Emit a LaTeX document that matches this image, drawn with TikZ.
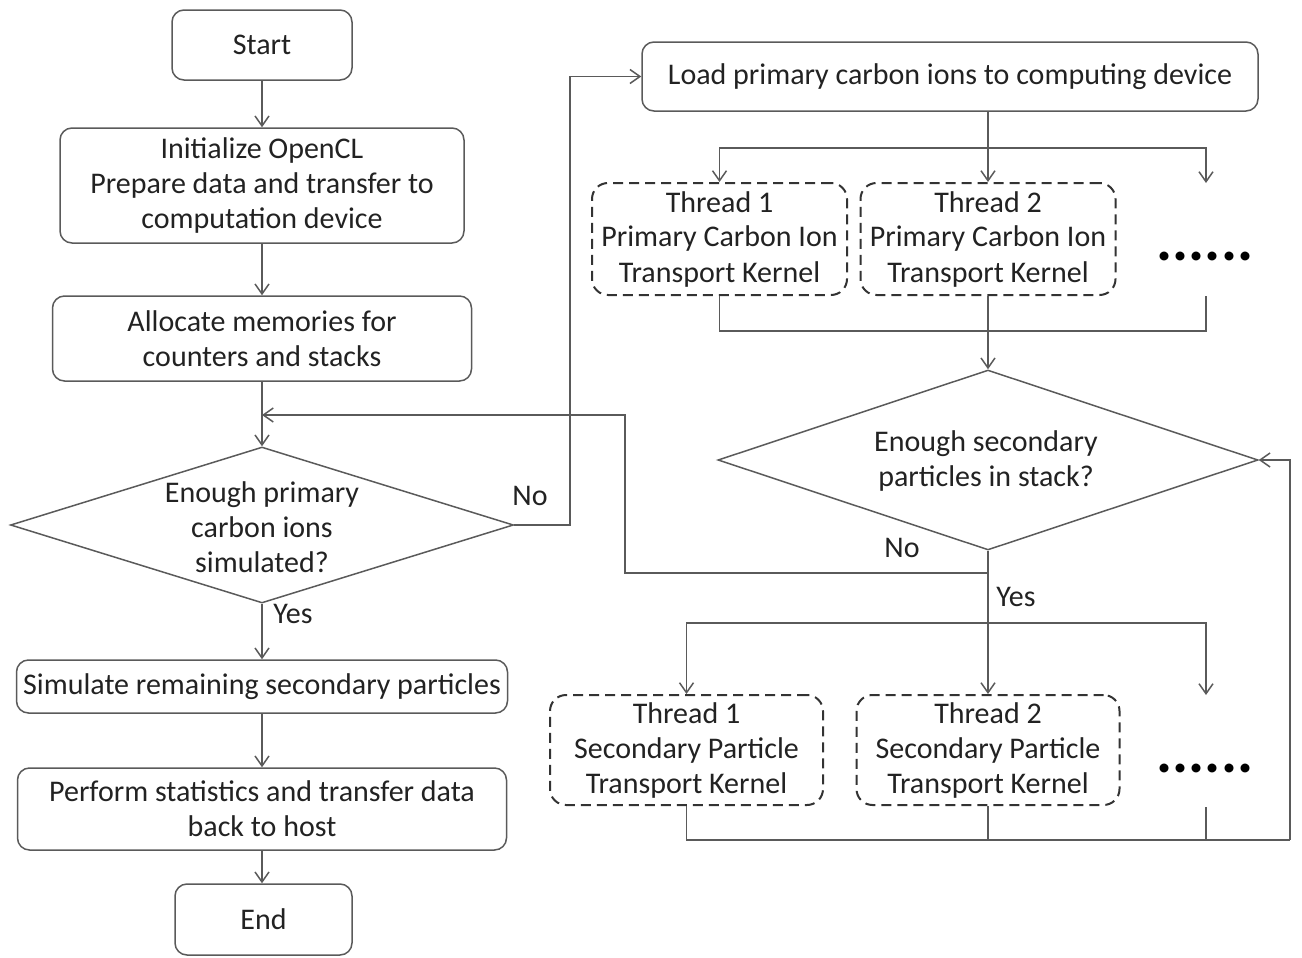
\documentclass[tikz,border=0pt]{standalone}
\usepackage{fontspec}
\setmainfont{Carlito}
\usetikzlibrary{shapes.geometric,arrows.meta}
\definecolor{linec}{HTML}{5A5A5A}
\definecolor{textc}{HTML}{222222}
\definecolor{dashc}{HTML}{333333}
\tikzset{
  box/.style={draw=linec, line width=0.75pt, rounded corners=6pt, inner sep=0pt, align=center, text=textc, font=\fontsize{15}{17.5}\selectfont},
  dbox/.style={box, draw=dashc, line width=1pt, dash pattern=on 5pt off 3pt, rounded corners=8pt},
  dia/.style={draw=linec, line width=0.75pt, diamond, inner sep=0pt},
  txt/.style={align=center, text=textc, font=\fontsize{15}{17.5}\selectfont, inner sep=0pt},
  dots/.style={text=black, font=\fontsize{30}{30}\selectfont\bfseries, inner sep=0pt},
  conn/.style={draw=linec, line width=0.75pt},
  arr/.style={conn, -{Straight Barb[length=5pt,width=7pt]}}
}
\begin{document}
\begin{tikzpicture}[x=0.5pt,y=-0.5pt]
\useasboundingbox (0,0) rectangle (1302,958);
% left column
\node[box, minimum width=90pt, minimum height=35pt] (start) at (262,45) {Start};
\node[box, minimum width=202pt, minimum height=57.5pt] (init) at (262,185.5) {Initialize OpenCL\\Prepare data and transfer to\\computation device};
\node[box, minimum width=209.5pt, minimum height=42.5pt] (alloc) at (262,338.5) {Allocate memories for\\counters and stacks};
\node[dia, minimum width=251.5pt, minimum height=78pt] (d1) at (262,525) {};
\node[txt] (d1t) at (262,527) {Enough primary\\carbon ions\\simulated?};
\node[box, minimum width=245.5pt, minimum height=26.5pt] (sim) at (262,686.5) {Simulate remaining secondary particles};
\node[box, minimum width=244.5pt, minimum height=41pt] (perf) at (262,809) {Perform statistics and transfer data\\back to host};
\node[box, minimum width=88.5pt, minimum height=35.5pt] (end) at (263.5,919.5) {End};
% right column
\node[box, minimum width=308pt, minimum height=34.5pt] (load) at (950,76.5) {Load primary carbon ions to computing device};
\node[dbox, minimum width=127.5pt, minimum height=56pt] (t1p) at (719.5,239) {Thread 1\\Primary Carbon Ion\\Transport Kernel};
\node[dbox, minimum width=127.5pt, minimum height=56pt] (t2p) at (988,239) {Thread 2\\Primary Carbon Ion\\Transport Kernel};
\node[dots] (dots1) at (1205,256) {......};
\node[dia, minimum width=270pt, minimum height=90pt] (d2) at (988,460) {};
\node[txt] (d2t) at (986,461) {Enough secondary\\particles in stack?};
\node[dbox, minimum width=136.5pt, minimum height=55pt] (t1s) at (686.5,750) {Thread 1\\Secondary Particle\\Transport Kernel};
\node[dbox, minimum width=131.5pt, minimum height=55pt] (t2s) at (988,750) {Thread 2\\Secondary Particle\\Transport Kernel};
\node[dots] (dots2) at (1205,768) {......};
% labels
\node[txt] (no1) at (530,496) {No};
\node[txt] (yes1) at (293,614) {Yes};
\node[txt] (no2) at (902,548) {No};
\node[txt] (yes2) at (1016,597) {Yes};
% coordinates
\coordinate (j1) at (262,415);
\coordinate (c1) at (570,525);
\coordinate (b1) at (988,148);
\coordinate (p3top) at (1206,183);
\coordinate (p3bot) at (1206,296);
\coordinate (m1) at (988,331);
\coordinate (jno) at (988,573);
\coordinate (noL) at (625,573);
\coordinate (b2) at (988,623);
\coordinate (s3top) at (1206,695);
\coordinate (s3bot) at (1206,807);
\coordinate (m2) at (988,840);
\coordinate (rc) at (1290,840);
% connectors left
\draw[arr] (start) -- (init);
\draw[arr] (init) -- (alloc);
\draw[arr] (alloc) -- (d1.north);
\draw[arr] (jno) -- (noL) |- (j1);
\draw[arr] (d1.east) -- (c1) |- (load.west);
\draw[arr] (d1.south) -- (sim);
\draw[arr] (sim) -- (perf);
\draw[arr] (perf) -- (end.north -| perf.south);
% connectors right top
\draw[arr] (load.south -| t2p.north) -- (t2p.north);
\draw[arr] (b1) -| (t1p.north);
\draw[arr] (b1) -| (p3top);
\draw[conn] (t1p.south) |- (m1);
\draw[conn] (p3bot) |- (m1);
\draw[arr] (t2p.south) -- (d2.north);
% right bottom
\draw[arr] (d2.south) -- (t2s.north);
\draw[arr] (b2) -| (t1s.north);
\draw[arr] (b2) -| (s3top);
\draw[conn] (t1s.south) |- (rc);
\draw[conn] (t2s.south) -- (m2);
\draw[conn] (s3bot) -- (s3bot |- rc);
\draw[arr] (rc) |- (d2.east);
\end{tikzpicture}
\end{document}
